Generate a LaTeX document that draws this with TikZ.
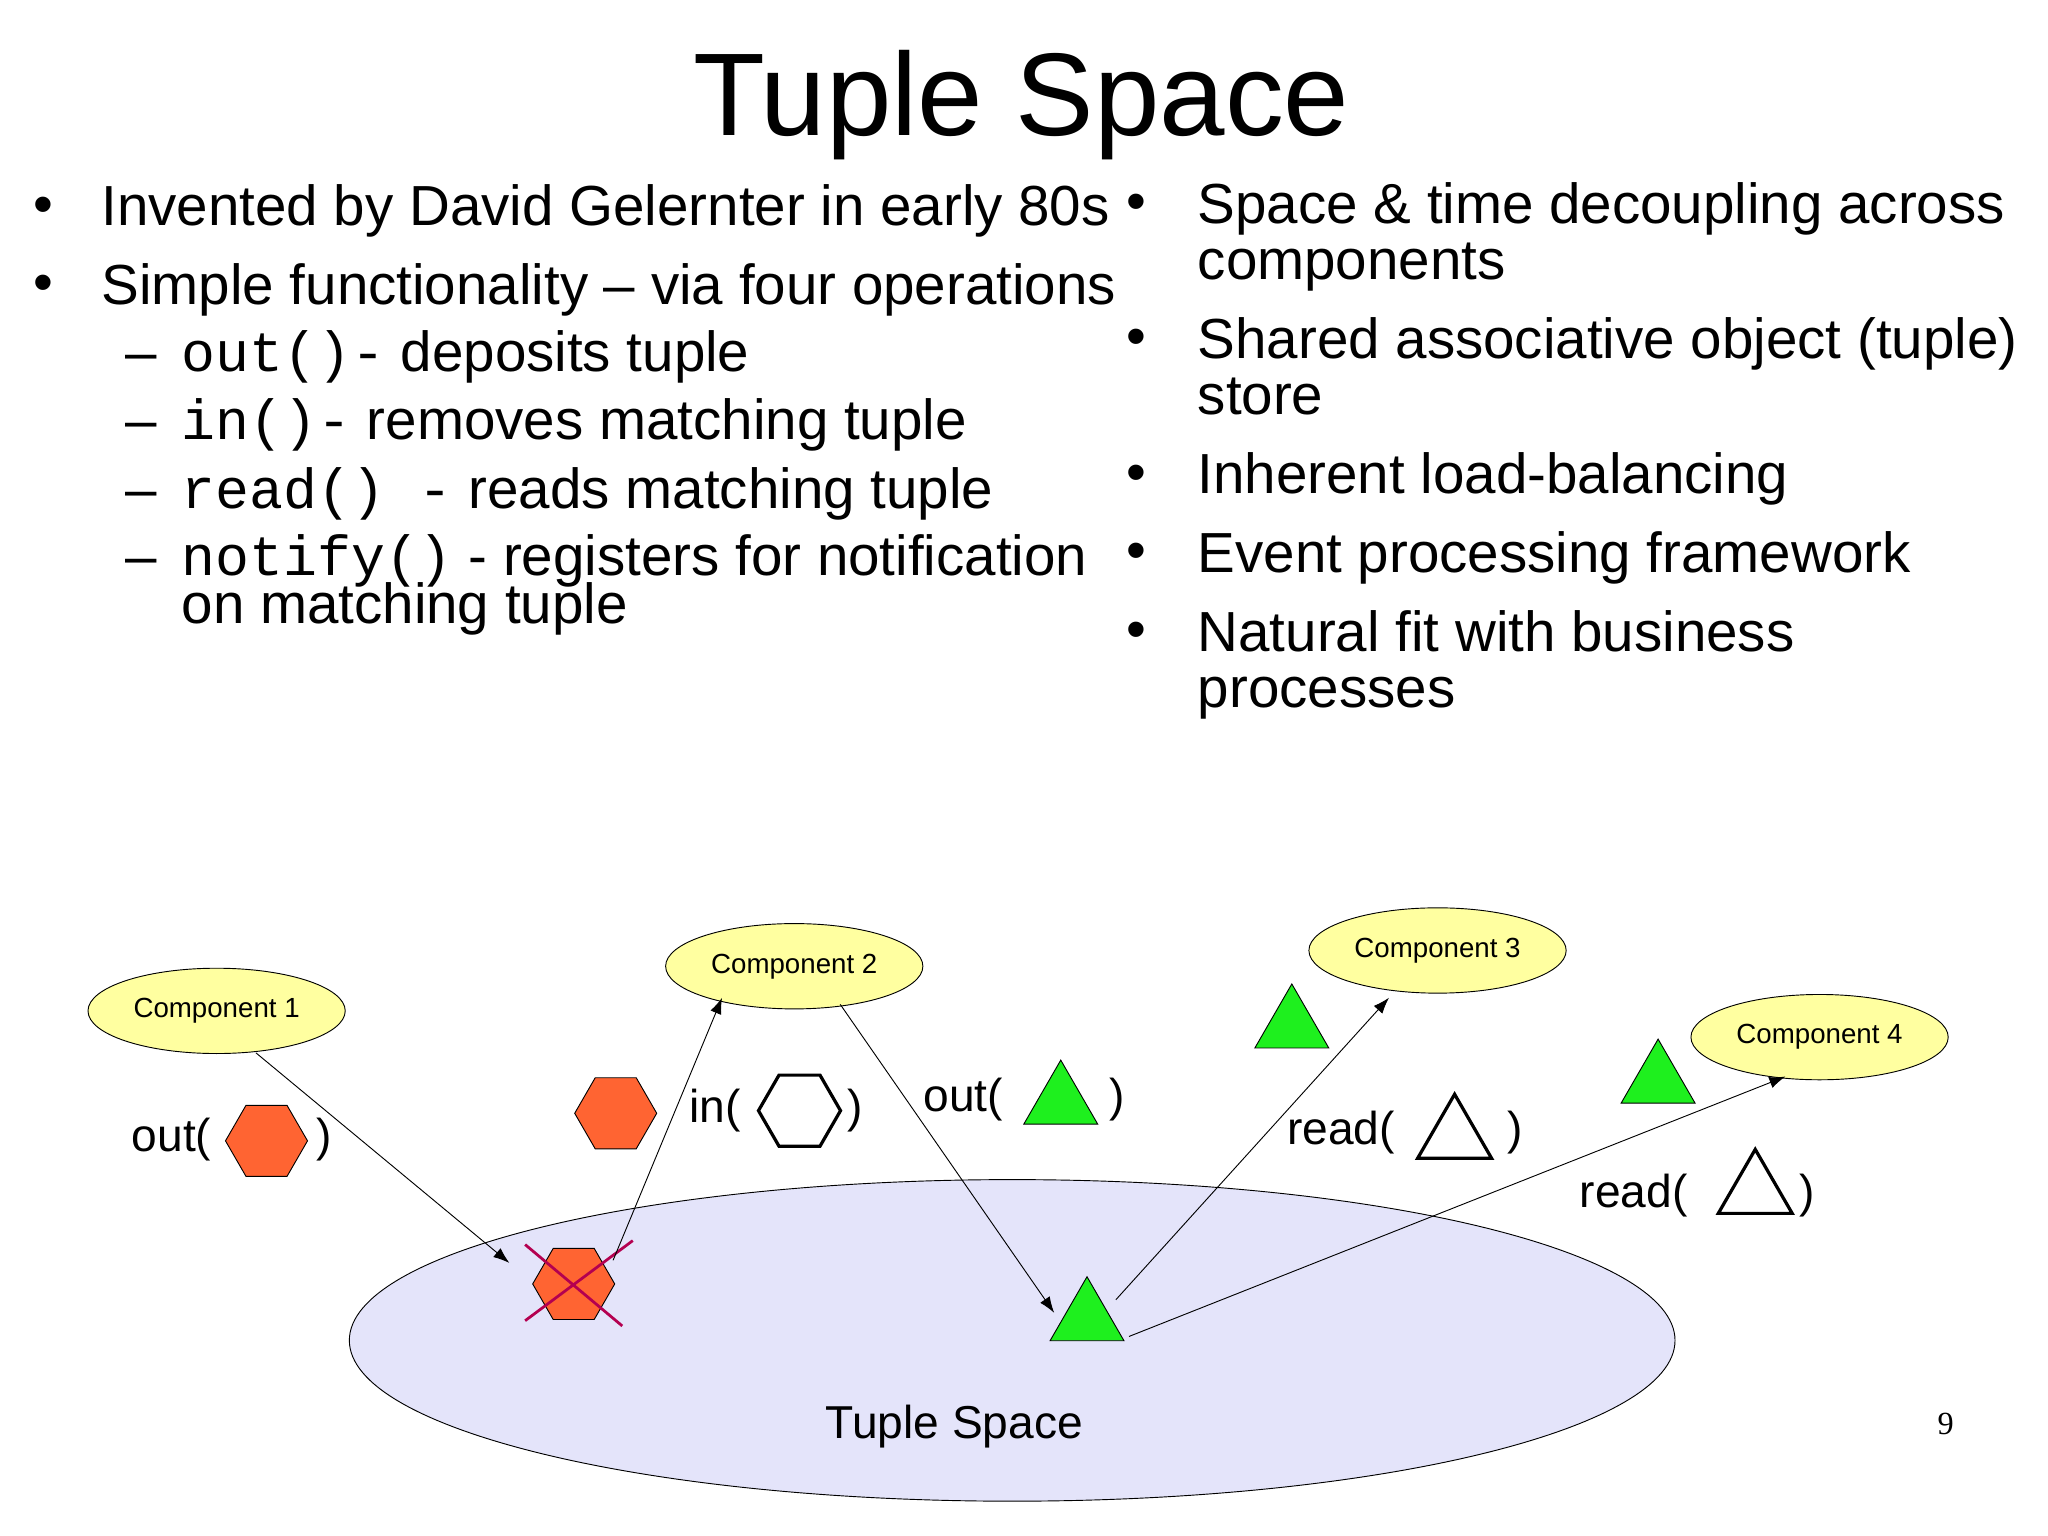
\documentclass[tikz,border=0pt]{standalone}
\usepackage{fontspec}
\setmainfont{Liberation Sans}
\newfontfamily\mono{Liberation Mono}
\newfontfamily\serifnum{Liberation Serif}
\usetikzlibrary{shapes.geometric,arrows.meta}
\begin{document}
\begin{tikzpicture}[x=0.02cm,y=-0.02cm,
  txt/.style={anchor=base west,inner sep=0,font=\fontsize{24.5}{28}\selectfont},
  comp/.style={ellipse,draw,fill=compfill,minimum width=3.92cm,minimum height=1.3cm,font=\fontsize{12}{14}\selectfont},
  hex/.style={regular polygon,regular polygon sides=6,draw,minimum size=1.25cm,inner sep=0},
  tri/.style={regular polygon,regular polygon sides=3,draw,minimum size=1.3cm,inner sep=0},
  wsh/.style={fill=white,line width=1.4pt},
  arr/.style={-{Latex[length=7pt,width=5pt]},thin},
  lbl/.style={anchor=base west,inner sep=0,font=\fontsize{20}{24}\selectfont}]
\definecolor{compfill}{RGB}{255,255,160}
\definecolor{spacefill}{RGB}{228,228,250}
\definecolor{hexo}{RGB}{255,100,50}
\definecolor{trig}{RGB}{30,240,30}
\definecolor{xred}{RGB}{180,0,80}
\useasboundingbox (0,0) rectangle (1560,1170);
\node[anchor=base,inner sep=0,font=\fontsize{51}{60}\selectfont] (title) at (778,103) {Tuple Space};
% left column
\node[txt] (b1) at (25,170) {•};
\node[txt] (l1) at (77,172) {Invented by David Gelernter in early 80s};
\node[txt] (b2) at (25,230) {•};
\node[txt] (l2) at (77,232) {Simple functionality – via four operations};
\node[txt] (d1) at (95,283) {–};
\node[txt] (s1) at (138,283) {{\mono out()-} deposits tuple};
\node[txt] (d2) at (95,335) {–};
\node[txt] (s2) at (138,335) {{\mono in()-} removes matching tuple};
\node[txt] (d3) at (95,387) {–};
\node[txt] (s3) at (138,387) {{\mono read() -} reads matching tuple};
\node[txt] (d4) at (95,438) {–};
\node[txt] (s4) at (138,438) {{\mono notify()} - registers for notification};
\node[txt] (s4b) at (138,475) {on matching tuple};
% right column
\node[txt] (r0) at (858,168) {•};
\node[txt] (r1) at (912,170) {Space \& time decoupling across};
\node[txt] (r1b) at (912,213) {components};
\node[txt] (r2) at (858,271) {•};
\node[txt] (r2a) at (912,273) {Shared associative object (tuple)};
\node[txt] (r2b) at (912,316) {store};
\node[txt] (r3) at (858,374) {•};
\node[txt] (r3a) at (912,376) {Inherent load-balancing};
\node[txt] (r4) at (858,434) {•};
\node[txt] (r4a) at (912,436) {Event processing framework};
\node[txt] (r5) at (858,494) {•};
\node[txt] (r5a) at (912,496) {Natural fit with business};
\node[txt] (r5b) at (912,539) {processes};
% diagram
\node[ellipse,draw,fill=spacefill,minimum width=20.2cm,minimum height=4.9cm] (space) at (771,1021) {};
\node[anchor=base,inner sep=0,font=\fontsize{20}{24}\selectfont] (spl) at (727,1096) {Tuple Space};
\node[comp] (c1) at (165,770) {Component 1};
\node[comp] (c2) at (605,736) {Component 2};
\node[comp] (c3) at (1095,724) {Component 3};
\node[comp] (c4) at (1386,790) {Component 4};
\node[lbl] (o1) at (100,877) {out(};
\node[hex,fill=hexo] (h1) at (203,869) {};
\node[lbl] (o1c) at (241,877) {)};
\node[hex,fill=hexo] (h2) at (469,848) {};
\node[lbl] (i1) at (525,855) {in(};
\node[hex,wsh] (h3) at (609,846) {};
\node[lbl] (i1c) at (645,855) {)};
\node[lbl] (o2) at (703,847) {out(};
\node[tri,fill=trig] (t1) at (808,840) {};
\node[lbl] (o2c) at (845,847) {)};
\node[tri,fill=trig] (t2) at (984,782) {};
\node[tri,fill=trig] (t3) at (1263,824) {};
\node[lbl] (rd1) at (980,872) {read(};
\node[tri,wsh] (t4) at (1108,866) {};
\node[lbl] (rd1c) at (1148,872) {)};
\node[lbl] (rd2) at (1203,920) {read(};
\node[tri,wsh] (t5) at (1337,908) {};
\node[lbl] (rd2c) at (1370,920) {)};
\node[hex,fill=hexo] (hs) at (437,978) {};
\draw[xred,line width=1.2pt] (400,948) -- (474,1010);
\draw[xred,line width=1.2pt] (482,945) -- (400,1006);
\node[tri,fill=trig] (ts) at (828,1005) {};
\node[anchor=base,inner sep=0,font=\serifnum\fontsize{14}{16}\selectfont] (pg) at (1482,1093) {9};
% arrows
\coordinate (a1s) at (195,802); \coordinate (a1e) at (388,962);
\coordinate (a2s) at (467,960); \coordinate (a2e) at (550,760);
\coordinate (a3s) at (640,765); \coordinate (a3e) at (803,1000);
\coordinate (a4s) at (850,990); \coordinate (a4e) at (1058,760);
\coordinate (a5s) at (860,1018); \coordinate (a5e) at (1360,820);
\draw[arr] (a1s) -- (a1e);
\draw[arr] (a2s) -- (a2e);
\draw[arr] (a3s) -- (a3e);
\draw[arr] (a4s) -- (a4e);
\draw[arr] (a5s) -- (a5e);
\end{tikzpicture}
\end{document}
